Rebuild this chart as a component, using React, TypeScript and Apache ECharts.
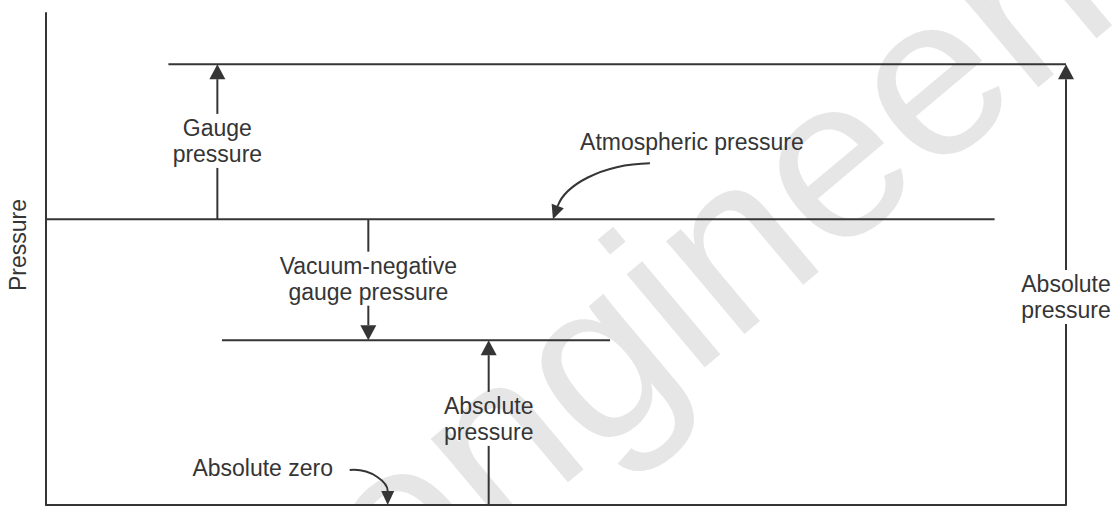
import React, { useEffect, useRef } from 'react';
import * as echarts from 'echarts';

// ---- data (axis units: x 0..100 across the diagram, y = pressure 0..100) ----
const levelNames = ['Gauge level', 'Atmospheric level', 'Vacuum level'];
const levelY = [89.6, 58.1, 33.5];
const levelXStart = [12.0, 0, 17.25];
const levelXEnd = [100, 93.0, 55.3];

const arrowLabels = ['Gauge\npressure', 'Vacuum-negative\ngauge pressure', 'Absolute\npressure', 'Absolute\npressure'];
const arrowX = [16.8, 31.6, 43.4, 100];
const arrowFrom = [58.1, 58.1, 0, 0];
const arrowTo = [89.6, 33.5, 33.5, 89.6];
const arrowLabelY = [74.0, 46.0, 17.5, 42.3];

const noteLabels = ['Atmospheric pressure', 'Absolute zero'];
const noteX = [49.7, 33.5];
const noteY = [58.1, 0];

const axisTitle = 'Pressure';
const watermarkText = 'engineering';

// ---- styling ----
const INK = '#353535';
const FONT = '"Liberation Sans", Arial, Helvetica, sans-serif';
const FS = 23;
const LH = 26;
// pixel offsets of each note's text and curve relative to its arrow tip
const NOTE_GEOM = [
  { text: [139, -77], start: [97, -56], c1: [47, -55], c2: [12, -33] },
  { text: [-125, -37], start: [-38, -35], c1: [-16, -37], c2: [0, -22] },
];

const App: React.FC = () => {
  const ref = useRef<HTMLDivElement>(null);

  useEffect(() => {
    if (!ref.current) return;
    const chart = echarts.init(ref.current, undefined, { renderer: 'svg' });

    const hidden = {
      axisTick: { show: false },
      axisLabel: { show: false },
      splitLine: { show: false },
    };

    const levelSeries = levelNames.map((name, i) => ({
      name,
      type: 'line',
      data: [
        [levelXStart[i], levelY[i]],
        [levelXEnd[i], levelY[i]],
      ],
      symbol: 'none',
      clip: false,
      silent: true,
      lineStyle: { color: INK, width: 2 },
      z: 3,
    }));

    const arrowSeries = {
      name: 'arrows',
      type: 'custom',
      clip: false,
      silent: true,
      z: 4,
      encode: { x: 0, y: [1, 2, 3] },
      data: arrowX.map((x, i) => [x, arrowFrom[i], arrowTo[i], arrowLabelY[i]]),
      renderItem: (params: any, api: any) => {
        const i = params.dataIndex;
        const x = api.value(0);
        const p0 = api.coord([x, api.value(1)]);
        const p1 = api.coord([x, api.value(2)]);
        const pl = api.coord([x, api.value(3)]);
        const dir = p1[1] < p0[1] ? -1 : 1;
        const H = 15, W = 8, GAP = 27;
        const gapNear = pl[1] - dir * GAP;
        const gapFar = pl[1] + dir * GAP;
        const headBase = p1[1] - dir * H;
        const ls = { stroke: INK, lineWidth: 2 };
        return {
          type: 'group',
          children: [
            { type: 'line', shape: { x1: p0[0], y1: p0[1], x2: p0[0], y2: gapNear }, style: ls },
            { type: 'line', shape: { x1: p0[0], y1: gapFar, x2: p0[0], y2: headBase }, style: ls },
            {
              type: 'polygon',
              shape: { points: [[p1[0], p1[1]], [p1[0] - W, headBase], [p1[0] + W, headBase]] },
              style: { fill: INK },
            },
            {
              type: 'text',
              x: pl[0],
              y: pl[1],
              style: {
                text: arrowLabels[i],
                fill: INK,
                fontSize: FS,
                fontFamily: FONT,
                lineHeight: LH,
                align: 'center',
                verticalAlign: 'middle',
              },
            },
          ],
        };
      },
    };

    const noteSeries = {
      name: 'notes',
      type: 'custom',
      clip: false,
      silent: true,
      z: 4,
      encode: { x: 0, y: 1 },
      data: noteX.map((x, i) => [x, noteY[i]]),
      renderItem: (params: any, api: any) => {
        const i = params.dataIndex;
        const g = NOTE_GEOM[i];
        const tip = api.coord([api.value(0), api.value(1)]);
        const tx = tip[0], ty = tip[1];
        const c2x = tx + g.c2[0], c2y = ty + g.c2[1];
        let dx = tx - c2x, dy = ty - c2y;
        const len = Math.sqrt(dx * dx + dy * dy) || 1;
        dx /= len; dy /= len;
        const H = 14, W = 6.5;
        const bx = tx - dx * H, by = ty - dy * H;
        const px = -dy, py = dx;
        return {
          type: 'group',
          children: [
            {
              type: 'bezierCurve',
              shape: {
                x1: tx + g.start[0], y1: ty + g.start[1],
                cpx1: tx + g.c1[0], cpy1: ty + g.c1[1],
                cpx2: c2x, cpy2: c2y,
                x2: bx, y2: by,
              },
              style: { stroke: INK, lineWidth: 2, fill: 'none' },
            },
            {
              type: 'polygon',
              shape: { points: [[tx, ty], [bx + px * W, by + py * W], [bx - px * W, by - py * W]] },
              style: { fill: INK },
            },
            {
              type: 'text',
              x: tx + g.text[0],
              y: ty + g.text[1],
              style: {
                text: noteLabels[i],
                fill: INK,
                fontSize: FS,
                fontFamily: FONT,
                align: 'center',
                verticalAlign: 'middle',
              },
            },
          ],
        };
      },
    };

    chart.setOption({
      animation: false,
      backgroundColor: '#ffffff',
      grid: { left: 46, right: 48, top: 13, bottom: 1 },
      xAxis: {
        type: 'value',
        min: 0,
        max: 100,
        axisLine: { show: true, onZero: false, lineStyle: { color: INK, width: 2 } },
        ...hidden,
      },
      yAxis: {
        type: 'value',
        min: 0,
        max: 100,
        axisLine: { show: true, onZero: false, lineStyle: { color: INK, width: 2 } },
        ...hidden,
      },
      graphic: [
        {
          type: 'text',
          z: -10,
          silent: true,
          x: 348,
          y: 563,
          rotation: (40 * Math.PI) / 180,
          style: {
            text: watermarkText,
            fill: '#e6e6e6',
            fontSize: 230,
            fontFamily: FONT,
            align: 'left',
            verticalAlign: 'middle',
          },
        },
        {
          type: 'text',
          x: 18,
          y: 245,
          rotation: Math.PI / 2,
          silent: true,
          style: {
            text: axisTitle,
            fill: INK,
            fontSize: FS,
            fontFamily: FONT,
            align: 'center',
            verticalAlign: 'middle',
          },
        },
      ],
      series: [...levelSeries, arrowSeries, noteSeries],
    });

    return () => {
      chart.dispose();
    };
  }, []);

  return (
    <div
      ref={ref}
      style={{ position: 'fixed', left: 0, top: 0, width: 1114, height: 506, background: '#fff' }}
    />
  );
};

export default App;
